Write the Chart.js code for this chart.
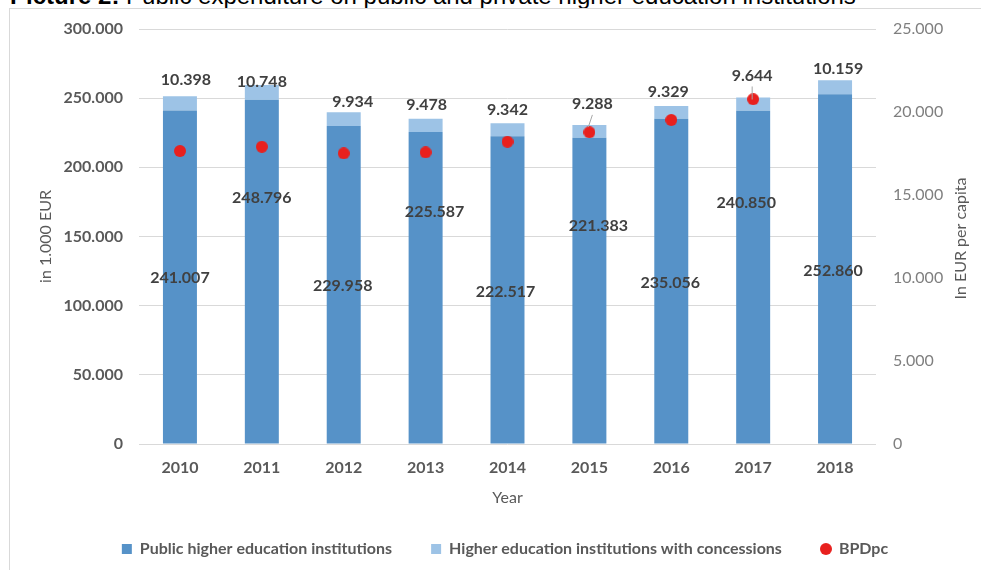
<!DOCTYPE html>
<html>
<head>
<meta charset="utf-8">
<title>Public expenditure on higher education institutions</title>
<script src="https://cdn.jsdelivr.net/npm/chart.js@4.4.1/dist/chart.umd.min.js"></script>
<style>
  html, body { margin: 0; padding: 0; background: #fff; }
  body { width: 981px; height: 570px; position: relative; overflow: hidden; }
  .caption {
    position: absolute; left: 10px; top: -16px;
    font: 24px/24px "Liberation Sans", Arial, sans-serif;
    color: #000; white-space: nowrap;
  }
  .frame {
    position: absolute; left: 9px; top: 8px; width: 1000px; height: 600px;
    border: 1px solid #d9d9d9;
  }
  #chart { position: absolute; left: 0; top: 0; }
</style>
</head>
<body>
<div class="caption"><b>Picture 2:</b> Public expenditure on public and private higher education institutions</div>
<div class="frame"></div>
<canvas id="chart" width="981" height="570"></canvas>
<script>
// yearly figures, in 1.000 EUR (bars) and EUR per capita (dots)
const years = ['2010', '2011', '2012', '2013', '2014', '2015', '2016', '2017', '2018'];
const publicInst = [241007, 248796, 229958, 225587, 222517, 221383, 235056, 240850, 252860];
const concessionInst = [10398, 10748, 9934, 9478, 9342, 9288, 9329, 9644, 10159];
const bpdpc = [17650, 17910, 17510, 17570, 18210, 18780, 19520, 20770, null];

// where each value label sits relative to its bar (dx, dy in px)
const publicLabelShift = [[0, 1], [0, -74], [-1, 1], [9, -76], [-2, 2], [9, -65], [-1, 2], [-7, -74], [-2, 2]];
const concessionLabelShift = [[6, -16], [0, -3], [9, -10], [1, -14], [0, -13], [3, -21], [-3, -14], [-1, -22], [3, -11]];
const leaderLine = [false, false, false, false, false, true, false, true, false];

const FONT = 'Lato, "Open Sans", sans-serif';
const fmt = v => String(v).replace(/\B(?=(\d{3})+(?!\d))/g, '.');

// small red dot, used for the points and their legend entry
const dot = document.createElement('canvas');
dot.width = 12;
dot.height = 12;
const dctx = dot.getContext('2d');
dctx.fillStyle = '#e8201e';
dctx.beginPath();
dctx.arc(6, 6, 6, 0, Math.PI * 2);
dctx.fill();

// value labels drawn on and above the stacked bars
const barLabels = {
  id: 'barLabels',
  afterDatasetsDraw(chart) {
    const ctx = chart.ctx;
    const pub = chart.getDatasetMeta(0).data;
    const con = chart.getDatasetMeta(1).data;
    ctx.save();
    ctx.font = 'bold 16px ' + FONT;
    ctx.fillStyle = '#404040';
    ctx.textAlign = 'center';
    ctx.textBaseline = 'middle';
    pub.forEach((bar, i) => {
      const mid = (bar.y + bar.base) / 2;
      ctx.fillText(fmt(publicInst[i]), bar.x + publicLabelShift[i][0], mid + publicLabelShift[i][1]);
    });
    con.forEach((bar, i) => {
      const x = bar.x + concessionLabelShift[i][0];
      const y = bar.y + concessionLabelShift[i][1];
      if (leaderLine[i]) {
        ctx.strokeStyle = '#a6a6a6';
        ctx.lineWidth = 1;
        ctx.beginPath();
        ctx.moveTo(x, y + 11);
        ctx.lineTo(bar.x - 1, bar.y + 2);
        ctx.stroke();
      }
      ctx.fillText(fmt(concessionInst[i]), x, y);
    });
    ctx.restore();
  }
};

// right axis title, reading bottom to top
const rightTitle = {
  id: 'rightTitle',
  afterDraw(chart) {
    const ctx = chart.ctx;
    const area = chart.chartArea;
    ctx.save();
    ctx.translate(961, (area.top + area.bottom) / 2 + 2);
    ctx.rotate(-Math.PI / 2);
    ctx.font = '16px ' + FONT;
    ctx.fillStyle = '#595959';
    ctx.textAlign = 'center';
    ctx.textBaseline = 'middle';
    ctx.fillText('In EUR per capita', 0, 0);
    ctx.restore();
  }
};

new Chart(document.getElementById('chart'), {
  type: 'bar',
  data: {
    labels: years,
    datasets: [
      {
        label: 'Public higher education institutions',
        data: publicInst,
        backgroundColor: '#5692c8',
        yAxisID: 'y',
        order: 1,
        pointStyle: 'rect'
      },
      {
        label: 'Higher education institutions with concessions',
        data: concessionInst,
        backgroundColor: '#9dc3e6',
        yAxisID: 'y',
        order: 1,
        pointStyle: 'rect'
      },
      {
        type: 'line',
        label: 'BPDpc',
        data: bpdpc,
        yAxisID: 'y1',
        showLine: false,
        order: 0,
        pointStyle: dot,
        pointRadius: 6,
        pointHoverRadius: 6,
        borderWidth: 0,
        pointBorderWidth: 0,
        backgroundColor: '#e8201e',
        borderColor: '#e8201e'
      }
    ]
  },
  options: {
    responsive: false,
    animation: false,
    devicePixelRatio: 1,
    categoryPercentage: 1,
    barPercentage: 0.415,
    layout: { padding: { left: 36, right: 7, top: 29, bottom: 3 } },
    plugins: {
      tooltip: { enabled: false },
      legend: {
        position: 'bottom',
        labels: {
          usePointStyle: true,
          boxWidth: 10,
          boxHeight: 10,
          padding: 39,
          color: '#595959',
          font: { family: FONT, size: 16, weight: 'bold' },
          sort: (a, b) => a.datasetIndex - b.datasetIndex
        }
      }
    },
    scales: {
      x: {
        stacked: true,
        grid: { display: false, drawTicks: false },
        border: { display: false },
        ticks: { padding: 14, color: '#595959', font: { family: FONT, size: 16, weight: 'bold' } },
        title: {
          display: true,
          text: 'Year',
          color: '#595959',
          font: { family: FONT, size: 16 },
          padding: { top: 0, bottom: -5 }
        },
        afterFit: scale => { scale.height = 58; }
      },
      y: {
        stacked: true,
        position: 'left',
        min: 0,
        max: 300000,
        grid: { color: '#d9d9d9', drawTicks: false },
        border: { display: false },
        ticks: {
          stepSize: 50000,
          padding: 16,
          color: '#595959',
          font: { family: FONT, size: 16, weight: 'bold' },
          callback: v => fmt(v)
        },
        title: {
          display: true,
          text: 'in 1.000 EUR',
          color: '#595959',
          font: { family: FONT, size: 16 },
          padding: { top: 0, bottom: 0 }
        },
        afterFit: scale => { scale.width = 139 - 36; }
      },
      y1: {
        position: 'right',
        min: 0,
        max: 25000,
        grid: { display: false, drawTicks: false },
        border: { display: false },
        ticks: {
          stepSize: 5000,
          padding: 17,
          color: '#7f7f7f',
          font: { family: FONT, size: 16 },
          callback: v => fmt(v)
        },
        afterFit: scale => { scale.width = 974 - 876; }
      }
    }
  },
  plugins: [barLabels, rightTitle]
});
</script>
</body>
</html>
